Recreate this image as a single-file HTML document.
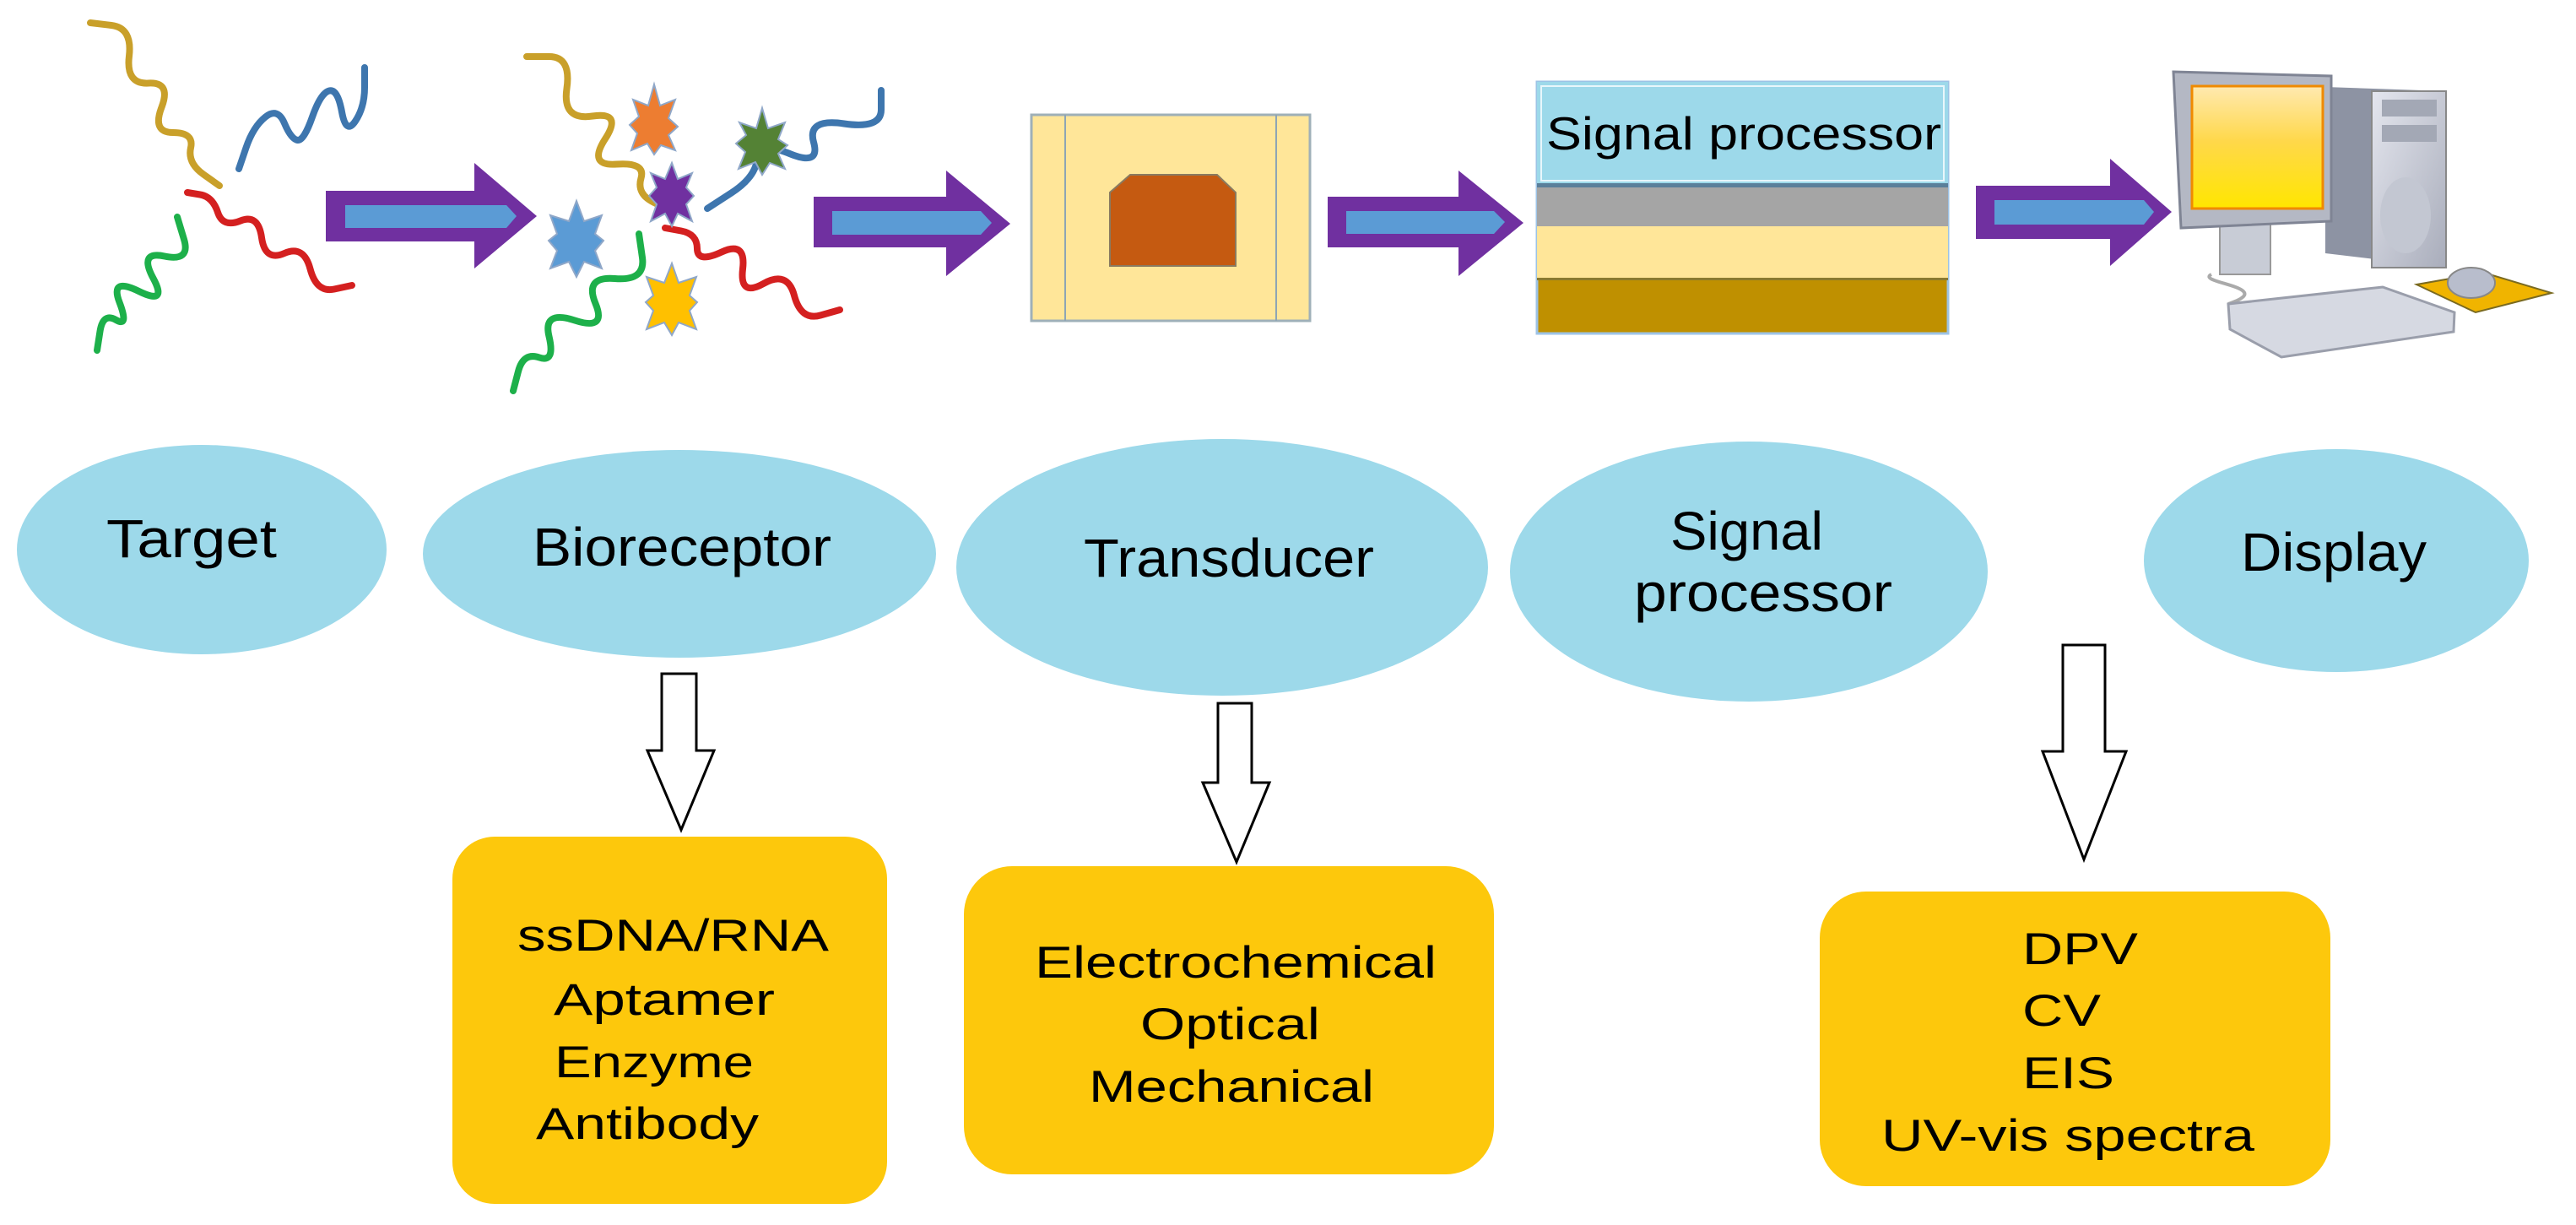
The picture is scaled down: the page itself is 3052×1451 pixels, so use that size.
<!DOCTYPE html>
<html><head><meta charset="utf-8"><style>html,body{margin:0;padding:0;background:#fff;}svg{display:block;}</style></head>
<body>
<svg width="3052" height="1451" viewBox="0 0 3052 1451" xmlns="http://www.w3.org/2000/svg" font-family="Liberation Sans, Arial, sans-serif">
<defs>
<linearGradient id="scr" x1="0" y1="0" x2="0" y2="1"><stop offset="0" stop-color="#ffe9b0"/><stop offset="0.45" stop-color="#ffd84a"/><stop offset="1" stop-color="#ffe600"/></linearGradient>
<linearGradient id="gr" x1="0" y1="0" x2="1" y2="1"><stop offset="0" stop-color="#e4e6ee"/><stop offset="1" stop-color="#a9adbb"/></linearGradient>
</defs>
<g fill="none" stroke-width="8" stroke-linecap="round" stroke-linejoin="round">
<path stroke="#C9A02A" d="M107,27 L132,30 Q157,33 153,66.5 Q149,100 176,98.5 Q203,97 191.5,127 Q180,157 205,157 Q230,157 226,175 Q222,193 241,206.5 L260,220"/>
<path stroke="#3E76AE" d="M283,200 L291.5,175 Q300,150 314.5,138.5 Q329,127 337,146 Q345,165 352.5,166 Q360,167 370,138.5 Q380,110 390,107.5 Q400,105 405,132.5 Q410,160 421,143.5 Q432,127 432,103.5 L432,80"/>
<path stroke="#D42020" d="M222,228 L237,230.5 Q252,233 258,251.5 Q264,270 285,261.5 Q306,253 310,281.5 Q314,310 337,300 Q360,290 367.5,318.5 Q375,347 396,342.5 L417,338"/>
<path stroke="#1DB04A" d="M115,415 L118.5,392.5 Q122,370 137.5,379 Q153,388 141.5,358 Q130,328 164.5,345 Q199,362 181.5,329.5 Q164,297 195,303.5 Q226,310 218,283.5 L210,257"/>
<path stroke="#C9A02A" d="M624,67 L650.5,67 Q677,67 671.5,105 Q666,143 702,137.5 Q738,132 717,164.5 Q696,197 730.5,194.5 Q765,192 759.5,211 Q754,230 775,240 L796,250"/>
<path stroke="#3E76AE" d="M838,247 L866.5,228.5 Q895,210 897,188.5 Q899,167 935.5,182 Q972,197 964,168.5 Q956,140 1000,146.5 Q1044,153 1044,130 L1044,107"/>
<path stroke="#D42020" d="M788,270 L807,273.5 Q826,277 826,294.5 Q826,312 855,298.5 Q884,285 880,318.5 Q876,352 904.5,336 Q933,320 941,350 Q949,380 972,373.5 L995,367"/>
<path stroke="#1DB04A" d="M608,463 L614,440 Q620,417 639,423.5 Q658,430 650.5,398.5 Q643,367 681,379.5 Q719,392 705.5,359.5 Q692,327 728.5,330 Q765,333 761,305 L757,277"/>
</g>
<g stroke="#8fa7c8" stroke-width="2">
<polygon fill="#ED7D31" points="775,100 782,125 800,118 792,140 803,150 792,160 800,178 783,172 775,183 767,170 748,178 755,158 746,148 757,138 750,118 768,125"/>
<polygon fill="#548235" points="903,128 910,152 930,145 922,165 933,172 922,182 930,200 912,193 903,207 895,192 875,200 883,180 872,170 884,160 876,145 896,152"/>
<polygon fill="#7030A0" points="796,193 803,212 820,205 813,222 822,232 813,242 820,262 803,253 796,268 788,253 771,262 778,242 769,232 778,222 771,205 788,212"/>
<polygon fill="#5B9BD5" points="683,238 692,262 713,255 705,277 715,285 705,297 713,318 692,310 683,328 674,310 652,318 660,297 650,285 660,277 652,255 674,262"/>
<polygon fill="#FFC000" points="796,312 804,335 825,328 817,350 826,358 817,368 825,390 804,382 796,397 787,382 766,390 774,368 765,358 774,350 766,328 787,335"/>
</g>
<g>
<polygon fill="#7030A0" points="386,226 562,226 562,193 636,256 562,318 562,286 386,286"/>
<polygon fill="#5B9BD5" points="409,243 600,243 612,256 600,270 409,270"/>
<polygon fill="#7030A0" points="964,233 1121,233 1121,202 1197,265 1121,327 1121,293 964,293"/>
<polygon fill="#5B9BD5" points="986,250 1162,250 1175,264 1162,278 986,278"/>
<polygon fill="#7030A0" points="1573,233 1728,233 1728,202 1805,264 1728,327 1728,293 1573,293"/>
<polygon fill="#5B9BD5" points="1595,250 1770,250 1783,263 1770,277 1595,277"/>
<polygon fill="#7030A0" points="2341,220 2500,220 2500,188 2573,251 2500,315 2500,283 2341,283"/>
<polygon fill="#5B9BD5" points="2363,237 2540,237 2552,251 2540,266 2363,266"/>
</g>
<rect x="1222" y="136" width="330" height="244" fill="#FFE699" stroke="#9fb0b8" stroke-width="3"/>
<line x1="1262" y1="136" x2="1262" y2="380" stroke="#8ea5b5" stroke-width="2"/>
<line x1="1512" y1="136" x2="1512" y2="380" stroke="#8ea5b5" stroke-width="2"/>
<polygon points="1339,207 1442,207 1464,228 1464,315 1315,315 1315,228" fill="#C55A11" stroke="#8a7a60" stroke-width="2"/>
<rect x="1821" y="97" width="487" height="298" fill="#BF9000" stroke="#9dc3e6" stroke-width="3"/>
<rect x="1821" y="97" width="487" height="120" fill="#9DD9EA"/>
<rect x="1826" y="102" width="477" height="112" fill="none" stroke="#e8f6fb" stroke-width="2"/>
<rect x="1821" y="217" width="487" height="5" fill="#5a7f9a"/>
<rect x="1821" y="222" width="487" height="46" fill="#A5A5A5"/>
<rect x="1821" y="268" width="487" height="62" fill="#FFE699"/>
<rect x="1821" y="329" width="487" height="3" fill="#8a7a30"/>
<text x="1832" y="177" font-size="55" textLength="468" lengthAdjust="spacingAndGlyphs">Signal processor</text>
<polygon points="2755,103 2898,108 2898,317 2755,300" fill="#8d93a3"/>
<rect x="2810" y="108" width="88" height="209" fill="url(#gr)" stroke="#888" stroke-width="2"/>
<rect x="2822" y="118" width="65" height="20" fill="#a3a8b5"/>
<rect x="2822" y="148" width="65" height="20" fill="#a3a8b5"/>
<ellipse cx="2850" cy="255" rx="30" ry="45" fill="#c3c7d2"/>
<rect x="2630" y="265" width="60" height="60" fill="#c8ccd6" stroke="#999" stroke-width="2"/>
<polygon points="2575,85 2762,90 2762,262 2584,270" fill="#b4b8c4" stroke="#7f8494" stroke-width="3"/>
<rect x="2597" y="102" width="155" height="145" fill="url(#scr)" stroke="#f08a00" stroke-width="3"/>
<path d="M2620,325 C2600,335 2700,340 2640,360" fill="none" stroke="#aaa" stroke-width="4"/>
<polygon points="2640,360 2823,340 2908,370 2907,393 2703,423 2642,390" fill="#d6d9e2" stroke="#9a9eab" stroke-width="3"/>
<polygon points="2863,337 2943,323 3023,347 2933,370" fill="#F0B400" stroke="#7a6a20" stroke-width="2"/>
<ellipse cx="2928" cy="335" rx="28" ry="18" fill="#b8bdcc" stroke="#888" stroke-width="2"/>
<g fill="#9DD9EA">
<ellipse cx="239" cy="651" rx="219" ry="124"/>
<ellipse cx="805" cy="656" rx="304" ry="123"/>
<ellipse cx="1448" cy="672" rx="315" ry="152"/>
<ellipse cx="2072" cy="677" rx="283" ry="154"/>
<ellipse cx="2768" cy="664" rx="228" ry="132"/>
</g>
<g font-size="64" fill="#000">
<text x="126" y="660" textLength="202" lengthAdjust="spacingAndGlyphs">Target</text>
<text x="631" y="670" textLength="354" lengthAdjust="spacingAndGlyphs">Bioreceptor</text>
<text x="1284" y="683" textLength="344" lengthAdjust="spacingAndGlyphs">Transducer</text>
<text x="1979" y="651" textLength="181" lengthAdjust="spacingAndGlyphs">Signal</text>
<text x="1936" y="724" textLength="306" lengthAdjust="spacingAndGlyphs">processor</text>
<text x="2655" y="676" textLength="220" lengthAdjust="spacingAndGlyphs">Display</text>
</g>
<g fill="#fff" stroke="#000" stroke-width="3">
<polygon points="784,798 825,798 825,889 846,889 807,983 767,889 784,889"/>
<polygon points="1443,833 1483,833 1483,927 1504,927 1465,1021 1425,927 1443,927"/>
<polygon points="2444,764 2494,764 2494,890 2519,890 2469,1018 2420,890 2444,890"/>
</g>
<g fill="#FDC80C">
<rect x="536" y="991" width="515" height="435" rx="50"/>
<rect x="1142" y="1026" width="628" height="365" rx="57"/>
<rect x="2156" y="1056" width="605" height="349" rx="55"/>
</g>
<g font-size="53" fill="#000">
<text x="613" y="1126" textLength="369" lengthAdjust="spacingAndGlyphs">ssDNA/RNA</text>
<text x="656" y="1202" textLength="262" lengthAdjust="spacingAndGlyphs">Aptamer</text>
<text x="657" y="1276" textLength="236" lengthAdjust="spacingAndGlyphs">Enzyme</text>
<text x="635" y="1349" textLength="264" lengthAdjust="spacingAndGlyphs">Antibody</text>
<text x="1226" y="1158" textLength="476" lengthAdjust="spacingAndGlyphs">Electrochemical</text>
<text x="1351" y="1231" textLength="213" lengthAdjust="spacingAndGlyphs">Optical</text>
<text x="1290" y="1305" textLength="338" lengthAdjust="spacingAndGlyphs">Mechanical</text>
<text x="2396" y="1142" textLength="137" lengthAdjust="spacingAndGlyphs">DPV</text>
<text x="2396" y="1215" textLength="93" lengthAdjust="spacingAndGlyphs">CV</text>
<text x="2396" y="1289" textLength="109" lengthAdjust="spacingAndGlyphs">EIS</text>
<text x="2229" y="1363" textLength="442" lengthAdjust="spacingAndGlyphs">UV-vis spectra</text>
</g>
</svg>
</body></html>
